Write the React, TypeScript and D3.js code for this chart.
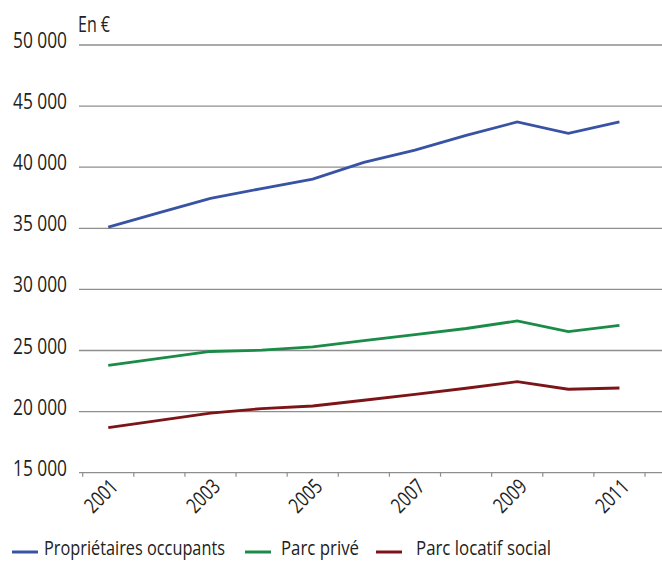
import React from "react";
import * as d3 from "d3";

const years = [2001, 2002, 2003, 2004, 2005, 2006, 2007, 2008, 2009, 2010, 2011];
const proprietaires = [35100, 36280, 37450, 38250, 39030, 40400, 41400, 42600, 43700, 42770, 43700];
const parcPrive = [23790, 24350, 24920, 25030, 25300, 25800, 26300, 26800, 27420, 26540, 27060];
const parcSocial = [18680, 19280, 19870, 20250, 20460, 20930, 21410, 21910, 22450, 21830, 21930];
const yTicks = [15000, 20000, 25000, 30000, 35000, 40000, 45000, 50000];
const labelYears = [2001, 2003, 2005, 2007, 2009, 2011];

const seriesNames = ["Propriétaires occupants", "Parc privé", "Parc locatif social"];
const seriesColors = ["#3953a4", "#1b8c48", "#7d1518"];
const seriesValues = [proprietaires, parcPrive, parcSocial];
const legendWidths = [181, 78, 135];

const FONT = "'Open Sans', 'Liberation Sans', sans-serif";

export default function App() {
  const W = 662;
  const H = 561;
  const plotLeft = 79;
  const plotRight = 662;
  const x = d3.scaleBand<number>().domain(years).range([82.7, 645]).padding(0);
  const y = d3.scaleLinear().domain([15000, 50000]).range([472.7, 45]);
  const cx = (yr: number) => (x(yr) as number) + x.bandwidth() / 2;
  const fmt = (v: number) => d3.format(",")(v).replace(/,/g, " ");
  const line = d3
    .line<number>()
    .x((_, i) => cx(years[i]))
    .y((v) => y(v));
  const boundaries = years.map((yr) => x(yr) as number).concat([(x(2011) as number) + x.bandwidth()]);
  const legendX = [12, 245, 376];
  const legendTextX = [44, 281, 416];

  return (
    <svg
      width={W}
      height={H}
      style={{ position: "absolute", left: 0, top: 0, background: "#fff" }}
      fontFamily={FONT}
    >
      <text x={78} y={32} fontSize={21} fill="#222" textLength={32} lengthAdjust="spacingAndGlyphs">En €</text>
      {yTicks.map((t) => (
        <g key={t}>
          {t !== 15000 && (
            <line x1={plotLeft} x2={plotRight} y1={y(t)} y2={y(t)} stroke="#8e8e8e" strokeWidth={1.3} />
          )}
          <text
            x={67}
            y={y(t) + 3}
            fontSize={21.5}
            fill="#222"
            textAnchor="end"
            textLength={54}
            lengthAdjust="spacingAndGlyphs"
          >
            {fmt(t)}
          </text>
        </g>
      ))}
      <line x1={plotLeft} x2={plotRight} y1={y(15000)} y2={y(15000)} stroke="#8e8e8e" strokeWidth={1.3} />
      {boundaries.map((b, i) => (
        <line key={i} x1={b} x2={b} y1={y(15000)} y2={y(15000) + 4} stroke="#8e8e8e" strokeWidth={1.2} />
      ))}
      {labelYears.map((yr) => (
        <text
          key={yr}
          transform={`translate(${cx(yr) + 11},${488}) rotate(-45)`}
          fontSize={21}
          fill="#222"
          textAnchor="end"
          textLength={37}
          lengthAdjust="spacingAndGlyphs"
        >
          {yr}
        </text>
      ))}
      {seriesValues.map((vals, i) => (
        <path key={i} d={line(vals) as string} fill="none" stroke={seriesColors[i]} strokeWidth={2.8} strokeLinejoin="miter" />
      ))}
      {seriesNames.map((n, i) => (
        <g key={n}>
          <line x1={legendX[i]} x2={legendX[i] + 26} y1={552} y2={552} stroke={seriesColors[i]} strokeWidth={3} />
          <text
            x={legendTextX[i]}
            y={555}
            fontSize={20.5}
            fill="#222"
            textLength={legendWidths[i]}
            lengthAdjust="spacingAndGlyphs"
          >
            {n}
          </text>
        </g>
      ))}
    </svg>
  );
}
